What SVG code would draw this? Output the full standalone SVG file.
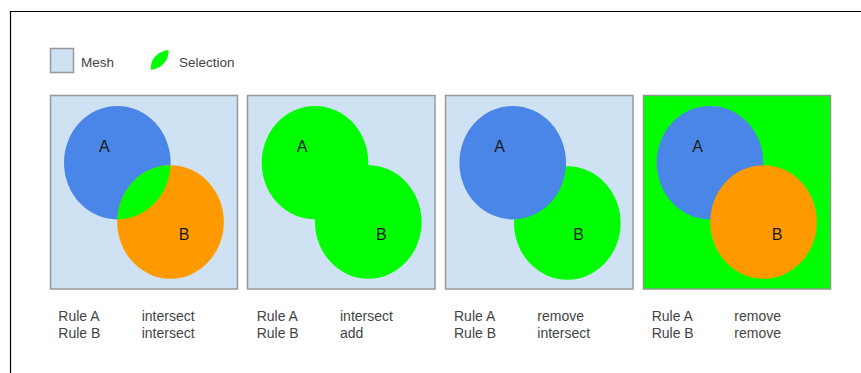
<svg xmlns="http://www.w3.org/2000/svg" width="861" height="373" viewBox="0 0 861 373">
<style>
.frame{fill:none;stroke:#000;stroke-width:1.2}
.mesh{fill:#cfe2f3;stroke:#999;stroke-width:1.5}
.meshsel{fill:#00ff00;stroke:#8a9a8a;stroke-width:1.5}
.blue{fill:#4a86e8}
.orange{fill:#ff9900}
.green{fill:#00ff00}
.lbl{font-family:"Liberation Sans",Arial,sans-serif;font-size:16px;fill:#1a1a1a}
.txt{font-family:"Liberation Sans",Arial,sans-serif;font-size:14px;fill:#444}
.leg{font-family:"Liberation Sans",Arial,sans-serif;font-size:13.5px;fill:#444}
</style>
<defs>
<clipPath id="clipA1"><ellipse cx="117.3" cy="162.7" rx="53.3" ry="56.7"/></clipPath>
</defs>
<rect width="861" height="373" fill="#fff"/>
<path class="frame" d="M10.5,373 V11.5 H861"/>
<g id="legend">
<rect x="50.5" y="48.5" width="23" height="24" class="mesh"/>
<text class="leg" x="81" y="66.5">Mesh</text>
<path class="green" d="M151,70 C149.5,59 158,51.5 168.5,50 C169.5,60 161.5,68.5 151,70 Z"/>
<text class="leg" x="179" y="66.5">Selection</text>
</g>
<g id="panel1">
<rect x="50.5" y="95.5" width="187" height="193.5" class="mesh"/>
<ellipse class="blue" cx="117.3" cy="162.7" rx="53.3" ry="56.7"/>
<ellipse class="orange" cx="170.5" cy="222" rx="53.3" ry="56.7"/>
<ellipse class="green" cx="170.5" cy="222" rx="53.3" ry="56.7" clip-path="url(#clipA1)"/>
<text class="lbl" x="99" y="151.7">A</text>
<text class="lbl" x="178.7" y="240">B</text>
<text class="txt" x="58.3" y="321">Rule A</text>
<text class="txt" x="141.7" y="321">intersect</text>
<text class="txt" x="58.3" y="338">Rule B</text>
<text class="txt" x="141.7" y="338">intersect</text>
</g>
<g id="panel2">
<rect x="247.5" y="95.5" width="187.5" height="193.5" class="mesh"/>
<ellipse class="green" cx="315" cy="162.7" rx="53.3" ry="56.7"/>
<ellipse class="green" cx="368.3" cy="222" rx="53.3" ry="56.7"/>
<text class="lbl" x="296.7" y="151.7">A</text>
<text class="lbl" x="376" y="240">B</text>
<text class="txt" x="256.7" y="321">Rule A</text>
<text class="txt" x="340" y="321">intersect</text>
<text class="txt" x="256.7" y="338">Rule B</text>
<text class="txt" x="340" y="338">add</text>
</g>
<g id="panel3">
<rect x="445.5" y="95.5" width="187.5" height="193.5" class="mesh"/>
<ellipse class="green" cx="567.3" cy="223" rx="53.3" ry="56.7"/>
<ellipse class="blue" cx="512.7" cy="162.7" rx="53.3" ry="56.7"/>
<text class="lbl" x="494.3" y="151.7">A</text>
<text class="lbl" x="573.3" y="240">B</text>
<text class="txt" x="454" y="321">Rule A</text>
<text class="txt" x="537.3" y="321">remove</text>
<text class="txt" x="454" y="338">Rule B</text>
<text class="txt" x="537.3" y="338">intersect</text>
</g>
<g id="panel4">
<rect x="643.5" y="95.5" width="187" height="193.5" class="meshsel"/>
<ellipse class="blue" cx="710" cy="162.7" rx="53.3" ry="56.7"/>
<ellipse class="orange" cx="763.5" cy="222" rx="53.3" ry="56.7"/>
<text class="lbl" x="692.3" y="151.7">A</text>
<text class="lbl" x="771.7" y="240">B</text>
<text class="txt" x="651.7" y="321">Rule A</text>
<text class="txt" x="734.3" y="321">remove</text>
<text class="txt" x="651.7" y="338">Rule B</text>
<text class="txt" x="734.3" y="338">remove</text>
</g>
<g id="connectors"></g>
</svg>
